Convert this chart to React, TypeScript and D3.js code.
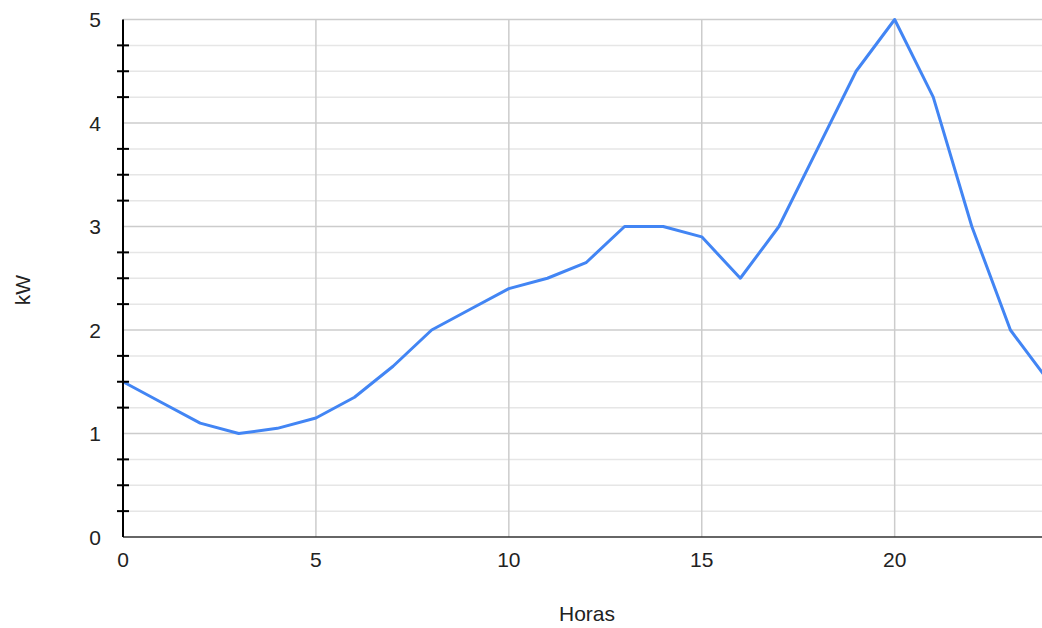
import React from "react";
import * as d3 from "d3";

const hours = [0,1,2,3,4,5,6,7,8,9,10,11,12,13,14,15,16,17,18,19,20,21,22,23,24];
const kw = [1.5,1.3,1.1,1.0,1.05,1.15,1.35,1.65,2.0,2.2,2.4,2.5,2.65,3.0,3.0,2.9,2.5,3.0,3.75,4.5,5.0,4.25,3.0,2.0,1.5];
const xTicks = [0,5,10,15,20];
const yTicks = [0,1,2,3,4,5];
const xTitle = "Horas";
const yTitle = "kW";

export default function App() {
  const W = 1042, H = 628;
  const x = d3.scaleLinear().domain([0, 24]).range([123, 1049]);
  const y = d3.scaleLinear().domain([0, 5]).range([537, 19.5]);
  const minor = d3.range(0, 5.001, 0.25).filter(v => Math.abs(v - Math.round(v)) > 1e-6);
  const line = d3.line<number>().x((_, i) => x(hours[i])).y(d => y(d));
  const font = "'Liberation Sans', Arial, sans-serif";
  const fs = 21;
  return (
    <svg width={W} height={H} style={{ position: "absolute", left: 0, top: 0 }} fontFamily={font}>
      <defs>
        <clipPath id="c"><rect x={0} y={0} width={W} height={H} /></clipPath>
      </defs>
      {minor.map(v => (
        <line key={"m" + v} x1={x(0)} x2={W} y1={y(v)} y2={y(v)} stroke="#e6e6e6" strokeWidth={1.5} />
      ))}
      {yTicks.filter(v => v > 0).map(v => (
        <line key={"g" + v} x1={x(0)} x2={W} y1={y(v)} y2={y(v)} stroke="#cccccc" strokeWidth={1.5} />
      ))}
      {xTicks.filter(v => v > 0).map(v => (
        <line key={"v" + v} x1={x(v)} x2={x(v)} y1={y(5)} y2={y(0)} stroke="#cccccc" strokeWidth={1.5} />
      ))}
      <path d={line(kw) || ""} fill="none" stroke="#4285f4" strokeWidth={3} strokeLinejoin="round" clipPath="url(#c)" />
      <line x1={x(0)} x2={W} y1={y(0)} y2={y(0)} stroke="#333" strokeWidth={1.5} />
      <line x1={x(0)} x2={x(0)} y1={y(5)} y2={y(0)} stroke="#000" strokeWidth={2} />
      {minor.map(v => (
        <line key={"t" + v} x1={x(0) - 6} x2={x(0) + 6} y1={y(v)} y2={y(v)} stroke="#000" strokeWidth={2} />
      ))}
      {yTicks.map(v => (
        <text key={"yl" + v} x={101} y={y(v)} dy="0.36em" textAnchor="end" fontSize={fs} fill="#222">{v}</text>
      ))}
      {xTicks.map(v => (
        <text key={"xl" + v} x={x(v)} y={567} textAnchor="middle" fontSize={fs} fill="#222">{v}</text>
      ))}
      <text x={587} y={621} textAnchor="middle" fontSize={fs} fill="#222">{xTitle}</text>
      <text transform={`translate(30,290) rotate(-90)`} textAnchor="middle" fontSize={fs} fill="#222">{yTitle}</text>
    </svg>
  );
}
